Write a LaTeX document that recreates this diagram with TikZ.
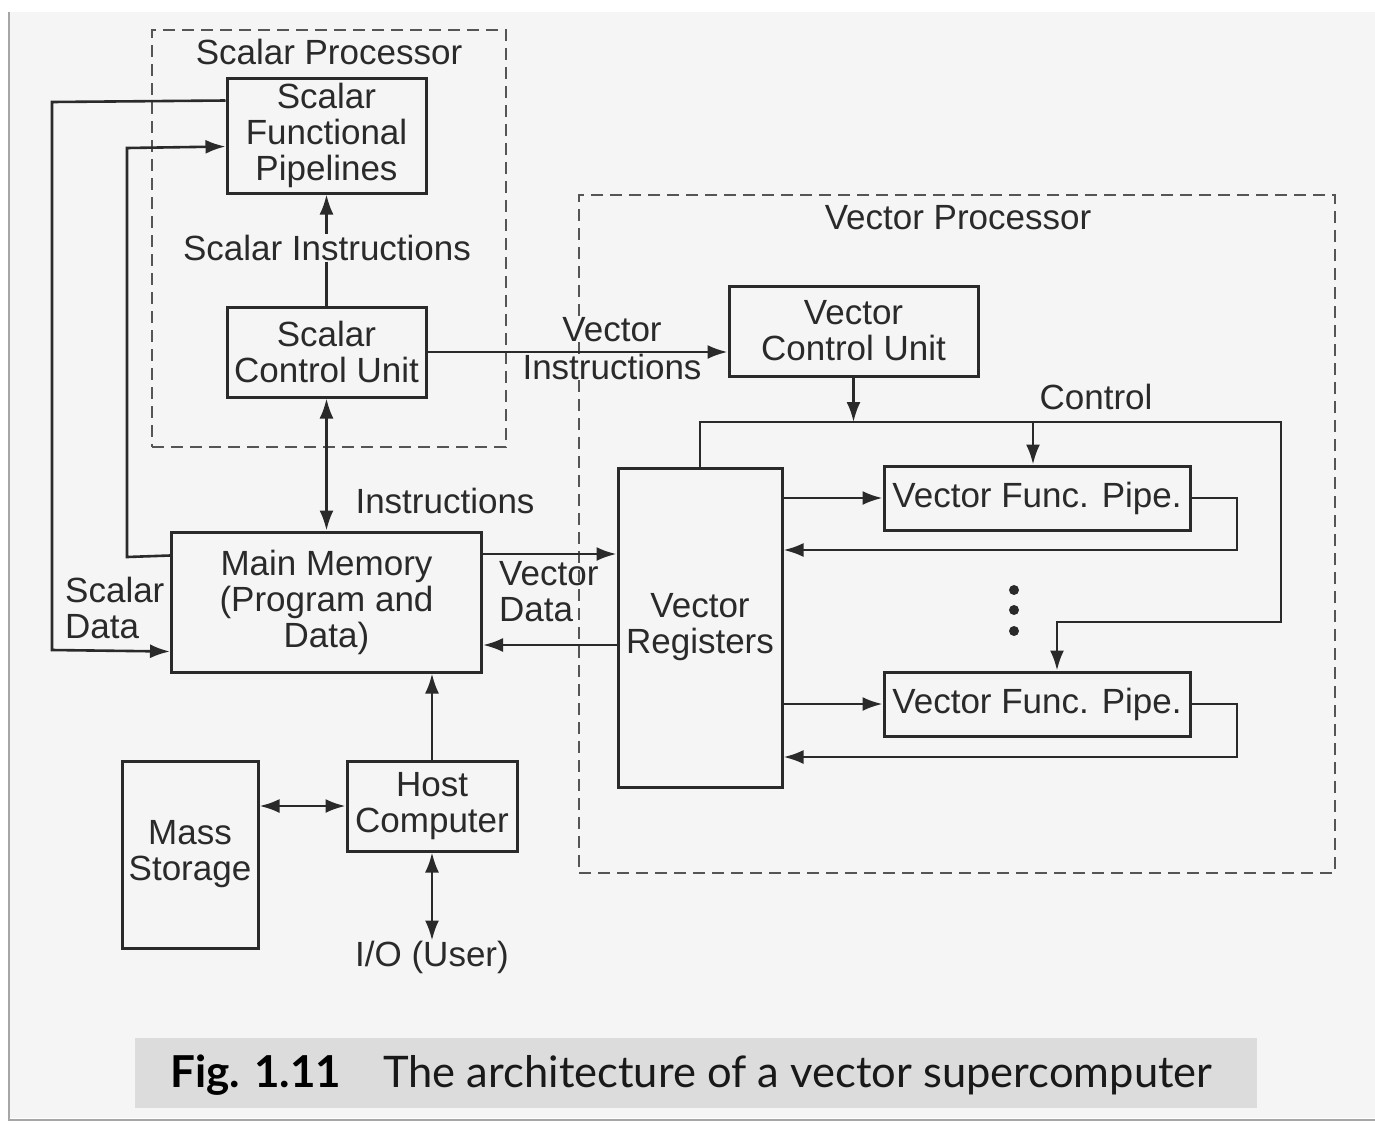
\documentclass[tikz,border=0pt]{standalone}
\usepackage{fontspec}
\setmainfont{Liberation Sans}
\newfontfamily\capfont{Lato}
\usetikzlibrary{arrows.meta,calc}
\definecolor{bg}{HTML}{F5F5F5}
\definecolor{ink}{HTML}{2A2A2A}
\definecolor{band}{HTML}{DCDCDC}
\begin{document}
\begin{tikzpicture}[x=1pt,y=-1pt,
  box/.style={draw=ink, line width=3pt, align=center, inner sep=0pt, text=ink,
    font=\fontsize{35}{36}\selectfont},
  lbl/.style={align=center, inner sep=1pt, text=ink, font=\fontsize{35}{36}\selectfont},
  conn/.style={draw=ink, line width=2.6pt},
  arr/.style={conn, -{Latex[length=20pt,width=14pt]}},
  darr/.style={conn, {Latex[length=20pt,width=14pt]}-{Latex[length=20pt,width=14pt]}},
  group/.style={draw=ink!80, line width=2.6pt, dash pattern=on 12pt off 7pt, inner sep=0pt},
  dotn/.style={circle, fill=ink, inner sep=0pt, minimum size=10pt},
]
\useasboundingbox (0,0) rectangle (1375,1122);
\fill[white] (0,0) rectangle (1375,1122);
\fill[bg] (9,12) rectangle (1375,1118);
\draw[gray!70, line width=2pt] (9,12) -- (9,1120) -- (1375,1120);

% groups
\node[group, minimum width=354pt, minimum height=417pt] (sp) at (329,238.5) {};
\node[group, minimum width=756pt, minimum height=678pt] (vp) at (957,534) {};
\node[lbl] (splbl) at (329,52) {Scalar Processor};
\node[lbl] (vplbl) at (958,218) {Vector Processor};

% boxes
\node[box, minimum width=199pt, minimum height=115pt] (sfp) at (326.5,135.5) {Scalar\\Functional\\Pipelines};
\node[box, minimum width=199pt, minimum height=90pt] (scu) at (326.5,352) {Scalar\\Control Unit};
\node[box, minimum width=310pt, minimum height=140pt] (mm) at (326.5,602) {Main Memory\\(Program and\\Data)};
\node[box, minimum width=136pt, minimum height=187pt] (ms) at (190,854.5) {Mass\\Storage};
\node[box, minimum width=170pt, minimum height=90pt] (hc) at (432,806) {Host\\Computer};
\node[lbl, inner sep=0pt] (io) at (432,957) {I/O (User)};
\node[box, minimum width=249pt, minimum height=90pt] (vcu) at (853.5,331) {Vector\\Control Unit};
\node[box, minimum width=164pt, minimum height=319pt] (vr) at (700,627.5) {Vector\\Registers};
\node[box, minimum width=306pt, minimum height=64pt] (vfp1) at (1037,498) {Vector Func. Pipe.};
\node[box, minimum width=306pt, minimum height=64pt] (vfp2) at (1037,704) {Vector Func. Pipe.};

% scalar connections
\draw[arr] (scu.north) -- (sfp.south);
\node[lbl, fill=bg] (silbl) at (327,248) {Scalar Instructions};
\draw[arr] ($(sfp.north west)+(0,24)$) -- (52,102) -- (52,650) -- ($(mm.south west)+(0,-22)$);
\draw[arr] ($(mm.north west)+(0,25)$) -- (127,557) -- (127,148) -- ($(sfp.north west)+(0,70)$);
\draw[darr] (scu.south) -- (mm.north);
\node[lbl] (inslbl) at (445,501) {Instructions};
\node[lbl, align=left, anchor=west] (sdlbl) at (64,608) {Scalar\\Data};

% scalar -> vector
\coordinate (vi) at (0,352);
\draw[arr] (scu.east) -- (vcu.west |- vi);
\node[lbl, fill=bg, inner sep=0pt] (vilbl1) at (612,330) {Vector};
\node[lbl, fill=bg, inner sep=0pt] (vilbl2) at (612,367) {Instructions};

% memory <-> vector registers
\coordinate (vd1) at (0,554);
\coordinate (vd2) at (0,645);
\draw[arr] (mm.east |- vd1) -- (vr.west |- vd1);
\draw[arr] (vr.west |- vd2) -- (mm.east |- vd2);
\node[lbl, align=left, anchor=west] (vdlbl) at (498,592) {Vector\\Data};

% control
\coordinate (ctl) at (854,422);
\coordinate (c1) at (1033,422);
\draw[arr] (vcu.south) -- (vcu.south |- ctl);
\draw[arr] (vr.north) -- (vr.north |- ctl) -- (1281,422) -- (1281,622) -- (1057,622) -- ($(vfp2.north)+(20,0)$);
\draw[arr] (c1) -- (c1 |- vfp1.north);
\node[lbl] (ctllbl) at (1096,397) {Control};

% pipes
\coordinate (r1) at (0,550);
\coordinate (r2) at (0,757);
\draw[arr] (vr.east |- vfp1.west) -- (vfp1.west);
\draw[arr] (vfp1.east) -- (1237,498) -- (1237,550) -- (vr.east |- r1);
\draw[arr] (vr.east |- vfp2.west) -- (vfp2.west);
\draw[arr] (vfp2.east) -- (1237,704) -- (1237,757) -- (vr.east |- r2);
\node[dotn] (d1) at (1014,590) {};
\node[dotn] (d2) at (1014,610) {};
\node[dotn] (d3) at (1014,631) {};

% host
\draw[arr] (hc.north) -- (hc.north |- mm.south);
\draw[darr] (ms.east |- hc.west) -- (hc.west);
\draw[darr] (hc.south) -- (io.north);

% caption
\node[fill=band, minimum width=1122pt, minimum height=70pt, inner sep=0pt] (capband) at (696,1073) {};
\node[anchor=base west, inner sep=0pt, text=black, font=\capfont\bfseries\fontsize{44}{46}\selectfont] (figno) at (170,1087) {Fig. 1.11};
\node[anchor=base west, inner sep=0pt, text=black!90, font=\capfont\fontsize{43.5}{46}\selectfont] (captxt) at (383,1087) {The architecture of a vector supercomputer};
\end{tikzpicture}
\end{document}
